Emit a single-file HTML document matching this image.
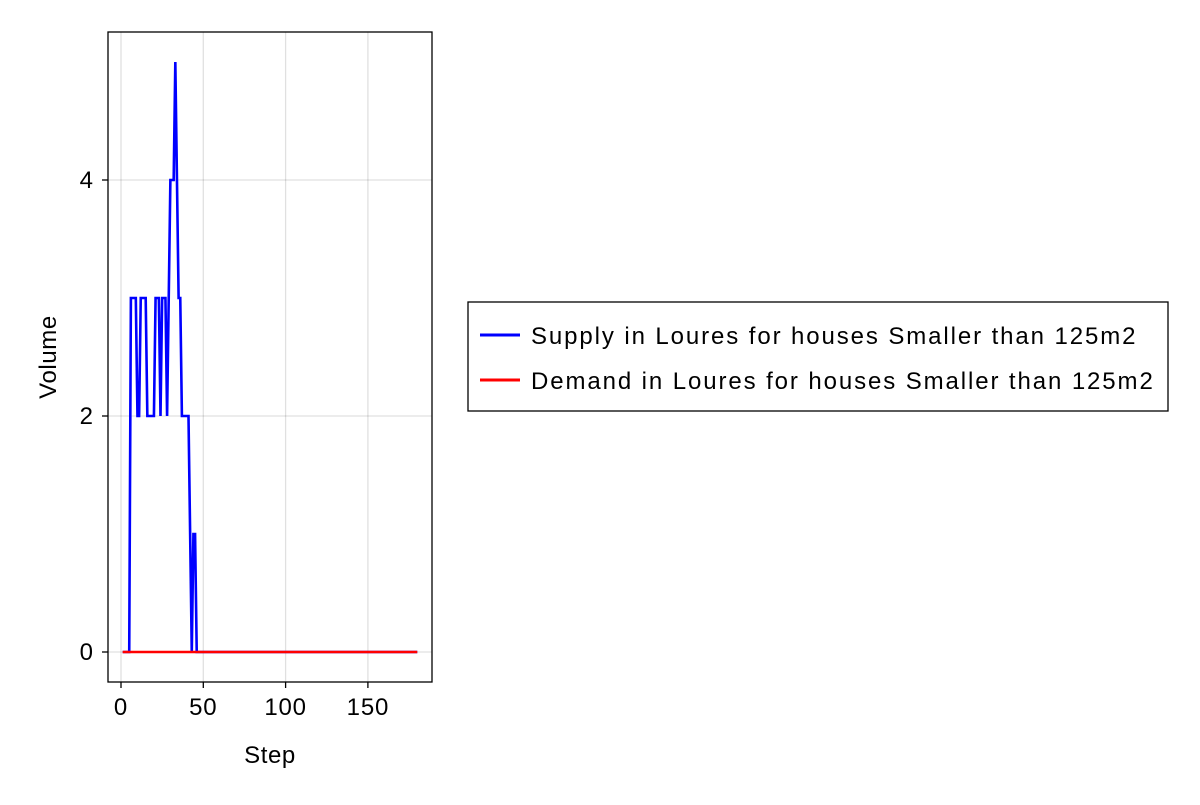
<!DOCTYPE html>
<html><head><meta charset="utf-8"><style>
body{margin:0;background:#fff;}
svg text{font-family:"Liberation Sans",sans-serif;}
</style></head><body>
<svg width="1200" height="800" id="chart">
<rect x="108" y="32" width="324" height="650" fill="#fff"/>
<g id="grid"></g>
<g id="axes"></g>
<g id="series"></g>
<rect x="108" y="32" width="324" height="650" fill="none" stroke="#000" stroke-width="1.3"/>
<text x="270" y="763" font-size="24" text-anchor="middle" letter-spacing="0.6">Step</text>
<text transform="translate(56,357) rotate(-90)" font-size="24" text-anchor="middle" letter-spacing="0.6">Volume</text>
<g>
<rect x="468" y="302" width="700" height="109" fill="#fff" stroke="#000" stroke-width="1.3"/>
<line x1="480" y1="335" x2="520" y2="335" stroke="#0000ff" stroke-width="3"/>
<text x="531" y="344" font-size="24" letter-spacing="1.9">Supply in Loures for houses Smaller than 125m2</text>
<line x1="480" y1="380" x2="520" y2="380" stroke="#ff0000" stroke-width="3"/>
<text x="531" y="389" font-size="24" letter-spacing="1.9">Demand in Loures for houses Smaller than 125m2</text>
</g>
</svg>
<script>
const supplyHead=[0,0,0,0,0,3,3,3,3,2,2,3,3,3,3,2,2,2,2,2,3,3,3,2,3,3,3,2,3,4,4,4,5,4,3,3,2,2,2,2,2,1,0,1,1,0];
const nSteps=180;
const xTicks=[0,50,100,150];
const yTicks=[0,2,4];
const supply=[];for(let i=0;i<nSteps;i++)supply.push(i<supplyHead.length?supplyHead[i]:0);
const demand=[];for(let i=0;i<nSteps;i++)demand.push(0);
const sx=v=>121+v*1.646;
const sy=v=>652-v*118;
const NS="http://www.w3.org/2000/svg";
const grid=document.getElementById('grid'),axes=document.getElementById('axes'),ser=document.getElementById('series');
function mk(t,a,p){const e=document.createElementNS(NS,t);for(const k in a)e.setAttribute(k,a[k]);p.appendChild(e);return e;}
xTicks.forEach(t=>{
 const g=mk('line',{x1:sx(t),x2:sx(t),y1:32,y2:682,stroke:'#000','stroke-opacity':0.12,'stroke-width':1.3},grid);
 
 
 const tk=mk('line',{x1:sx(t),x2:sx(t),y1:682,y2:688,stroke:'#000','stroke-width':1.3},axes);
 
 
 const l=mk('text',{x:sx(t),y:715,'font-size':24,'text-anchor':'middle','letter-spacing':0.8},axes);l.textContent=t;
 
 
});
yTicks.forEach(t=>{
 const g=mk('line',{x1:108,x2:432,y1:sy(t),y2:sy(t),stroke:'#000','stroke-opacity':0.12,'stroke-width':1.3},grid);
 
 
 const tk=mk('line',{x1:102,x2:108,y1:sy(t),y2:sy(t),stroke:'#000','stroke-width':1.3},axes);
 
 
 const l=mk('text',{x:93,y:sy(t)+8,'font-size':24,'text-anchor':'end'},axes);l.textContent=t;
 
 
});
function line(d,c,name){
 const pts=d.map((v,i)=>sx(i+1).toFixed(2)+','+sy(v).toFixed(2)).join(' ');
 const p=mk('polyline',{points:pts,fill:'none',stroke:c,'stroke-width':2.6,'stroke-linejoin':'miter'},ser);
 
 
}
line(supply,'#0000ff','supply-line');
line(demand,'#ff0000','demand-line');
</script>
</body></html>
